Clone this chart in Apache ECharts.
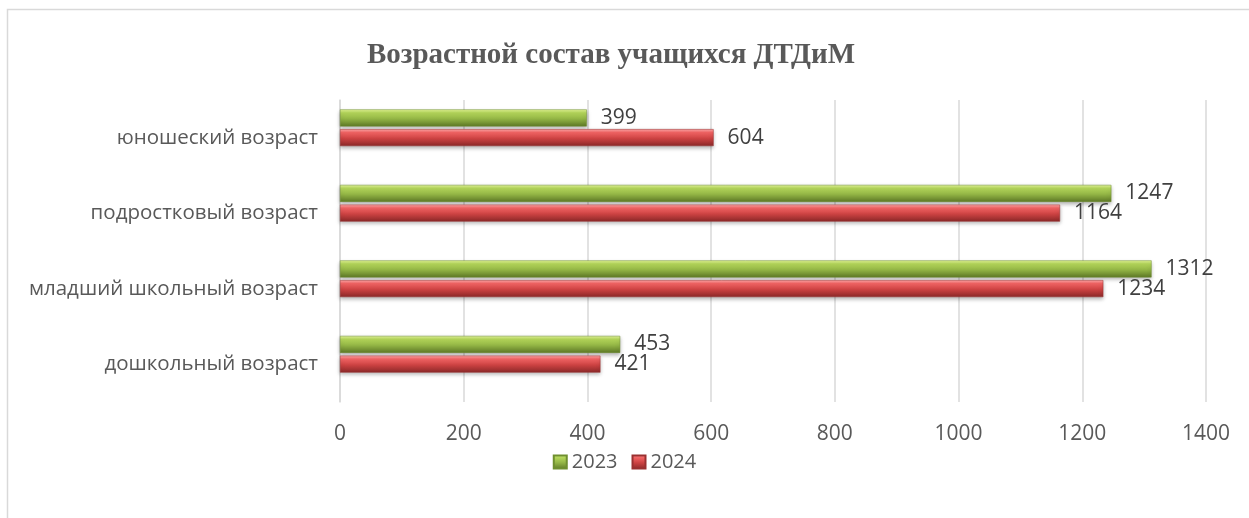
<!DOCTYPE html>
<html>
<head>
<meta charset="utf-8">
<script src="https://cdn.jsdelivr.net/npm/echarts@6/dist/echarts.min.js"></script>
<style>
  html, body { margin: 0; padding: 0; background: #fff; }
  #chart { width: 1249px; height: 518px; }
</style>
</head>
<body>
<div id="chart"></div>
<script>
// данные диаграммы
var categories = ['дошкольный возраст', 'младший школьный возраст', 'подростковый возраст', 'юношеский возраст'];
var years = ['2023', '2024'];
var values2023 = [453, 1312, 1247, 399];
var values2024 = [421, 1234, 1164, 604];
var xTicks = { min: 0, max: 1400, step: 200 };

var font = '"Open Sans", "DejaVu Sans", sans-serif';

function grad(stops) {
  return new echarts.graphic.LinearGradient(0, 0, 0, 1, stops.map(function (s) {
    return { offset: s[0], color: s[1] };
  }));
}
var greenFill = grad([[0, '#e4f79a'], [0.2, '#b4d65a'], [0.55, '#93b545'], [1, '#5d7826']]);
var redFill = grad([[0, '#ffaaaa'], [0.2, '#f26464'], [0.55, '#cc4242'], [1, '#8a2828']]);

var chart = echarts.init(document.getElementById('chart'));

function barSeries(name, data, fill, edge) {
  return {
    name: name,
    type: 'bar',
    xAxisIndex: 1,
    yAxisIndex: 1,
    data: data,
    barWidth: 17,
    barGap: '16%',
    itemStyle: {
      color: fill,
      borderColor: edge,
      borderWidth: 0.5,
      shadowColor: 'rgba(0,0,0,0.3)',
      shadowBlur: 4,
      shadowOffsetY: 2
    },
    label: {
      show: true,
      position: 'right',
      distance: 14,
      color: '#404040',
      fontSize: 21,
      fontFamily: font
    }
  };
}

chart.setOption({
  animation: false,
  title: {
    text: 'Возрастной состав учащихся ДТДиМ',
    left: 606,
    textAlign: 'center',
    top: 36,
    textStyle: {
      fontFamily: '"Liberation Serif", "DejaVu Serif", serif',
      fontWeight: 'bold',
      fontSize: 29,
      color: '#595959'
    }
  },
  graphic: [{
    type: 'rect',
    shape: { x: 7.5, y: 9.5, width: 1260, height: 530 },
    style: { fill: 'none', stroke: '#d9d9d9', lineWidth: 1.5 },
    silent: true,
    z: -1
  }],
  legend: {
    data: years,
    left: 'center',
    top: 447,
    itemWidth: 13,
    itemHeight: 13,
    itemGap: 14,
    icon: 'rect',
    textStyle: { fontFamily: font, fontSize: 20, color: '#595959', padding: [0, 0, 0, 0] }
  },
  grid: [
    { left: 340, right: 43, top: 100, height: 302 },
    { left: 340, right: 43, top: 90, height: 302 }
  ],
  xAxis: [{
    gridIndex: 0,
    type: 'value',
    min: xTicks.min,
    max: xTicks.max,
    interval: xTicks.step,
    axisLine: { show: false },
    axisTick: { show: false },
    splitLine: { lineStyle: { color: '#d9d9d9', width: 1.5 } },
    axisLabel: {
      margin: 22, fontFamily: font, fontSize: 21, color: '#595959',
      formatter: function (v) { return String(v); }
    }
  }, {
    gridIndex: 1,
    type: 'value',
    min: xTicks.min,
    max: xTicks.max,
    show: false,
    splitLine: { show: false }
  }],
  yAxis: [{
    gridIndex: 0,
    type: 'category',
    data: categories,
    axisLine: { lineStyle: { color: '#d9d9d9', width: 1.5 } },
    axisTick: { show: false },
    axisLabel: { margin: 22, fontFamily: font, fontSize: 20.5, color: '#595959' }
  }, {
    gridIndex: 1,
    type: 'category',
    data: categories,
    show: false
  }],
  series: [
    barSeries('2023', values2023, greenFill, '#6f8f2f'),
    barSeries('2024', values2024, redFill, '#9a3030')
  ]
});
</script>
</body>
</html>
